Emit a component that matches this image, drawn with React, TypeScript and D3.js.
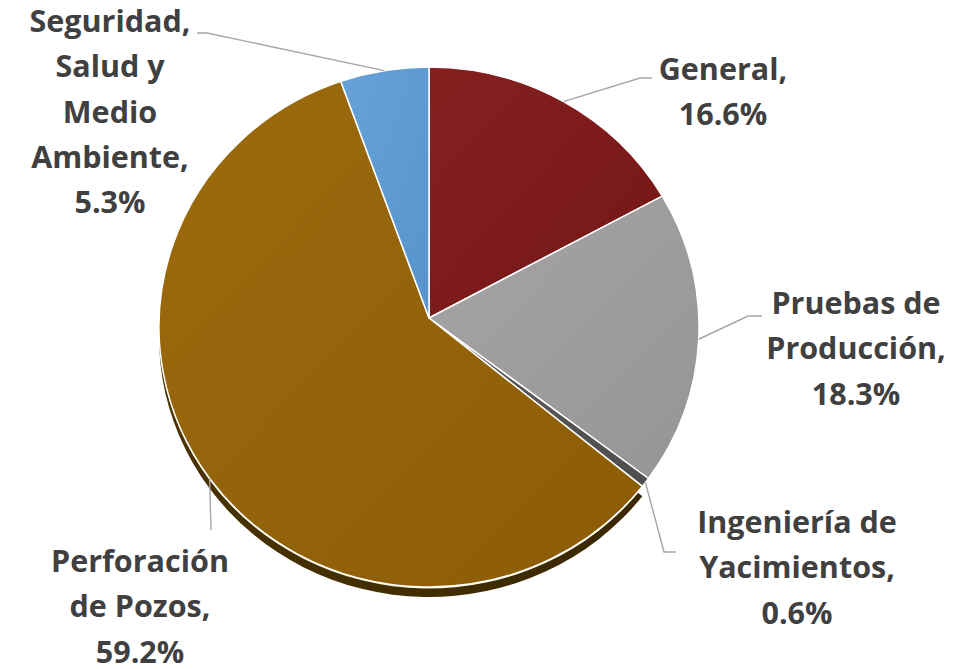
import React from "react";
import * as d3 from "d3";

const categories = ["General", "Pruebas de Producción", "Ingeniería de Yacimientos", "Perforación de Pozos", "Seguridad, Salud y Medio Ambiente"];
const values = [16.6, 18.3, 0.6, 59.2, 5.3];
const labelLines = [
  ["General,", "16.6%"],
  ["Pruebas de", "Producción,", "18.3%"],
  ["Ingeniería de", "Yacimientos,", "0.6%"],
  ["Perforación", "de Pozos,", "59.2%"],
  ["Seguridad,", "Salud y", "Medio", "Ambiente,", "5.3%"],
];
const colors = ["#7e1a1c", "#a09e9e", "#555555", "#946208", "#5e9bd3"];
const colorsLight = ["#85201f", "#a6a4a4", "#5c5c5c", "#9c6b0f", "#66a2d8"];
const colorsDark = ["#751618", "#969494", "#4e4e4e", "#8c5c04", "#5694cc"];

// layout
const W = 973, H = 669;
const CX = 429, CY = 327, RX = 270, RY = 260;
const AX = 429, AY = 318; // apex
const labelPos = [
  { x: 723, y: 80 },
  { x: 856, y: 314 },
  { x: 797, y: 533 },
  { x: 140, y: 572 },
  { x: 110, y: 32 },
];
const elbows = [
  [[640, 78], [652, 78]],
  [[748, 316], [762, 316]],
  [[664, 552], [676, 552]],
  [[211, 530], [211, 530]],
  [[207, 33], [197, 33]],
];
const LINE_H = 45.3;

function pt(a: number): [number, number] {
  return [CX + RX * Math.sin(a), CY - RY * Math.cos(a)];
}

function slicePath(a0: number, a1: number, dy = 0) {
  const [x0, y0] = pt(a0);
  const [x1, y1] = pt(a1);
  const large = a1 - a0 > Math.PI ? 1 : 0;
  return `M${AX},${AY + dy}L${x0},${y0 + dy}A${RX},${RY} 0 ${large} 1 ${x1},${y1 + dy}Z`;
}

export default function App() {
  const pie = d3.pie<number>().sort(null).value((d) => d);
  const arcs = pie(values);
  const perf = arcs[3];
  return (
    <svg width={W} height={H} style={{ position: "absolute", left: 0, top: 0, background: "#fff" }}>
      <defs>
        {colors.map((c, i) => (
          <linearGradient key={i} id={`g${i}`} x1="0" y1="0" x2="1" y2="1">
            <stop offset="0%" stopColor={colorsLight[i]} />
            <stop offset="100%" stopColor={colorsDark[i]} />
          </linearGradient>
        ))}
        <linearGradient id="shadow" x1="0" y1="0" x2="1" y2="0">
          <stop offset="0%" stopColor="#4a3300" />
          <stop offset="100%" stopColor="#3a2800" />
        </linearGradient>
      </defs>
      {/* bottom thickness */}
      <path d={slicePath(perf.startAngle, perf.endAngle, 10)} fill="url(#shadow)" />
      <path d={slicePath(perf.startAngle, perf.endAngle, 1.5)} fill="#f3ead2" />
      {arcs.map((a, i) => (
        <path key={i} d={slicePath(a.startAngle, a.endAngle)} fill={`url(#g${i})`} stroke="#ffffff" strokeWidth={1.5} strokeLinejoin="round" />
      ))}
      {arcs.map((a, i) => {
        const m = (a.startAngle + a.endAngle) / 2;
        const [x, y] = pt(m);
        const pts = [[x, y], ...elbows[i]];
        return (
          <polyline key={"l" + i} points={pts.map((p) => p.join(",")).join(" ")} fill="none" stroke="#a6a6a6" strokeWidth={1.4} />
        );
      })}
      {labelLines.map((lines, i) => (
        <text key={"t" + i} x={labelPos[i].x} y={labelPos[i].y} textAnchor="middle" fontFamily="'Open Sans', sans-serif" fontWeight={700} fontSize={30.5} fill="#404040">
          {lines.map((l, j) => (
            <tspan key={j} x={labelPos[i].x} y={labelPos[i].y + j * LINE_H}>{l}</tspan>
          ))}
        </text>
      ))}
    </svg>
  );
}
